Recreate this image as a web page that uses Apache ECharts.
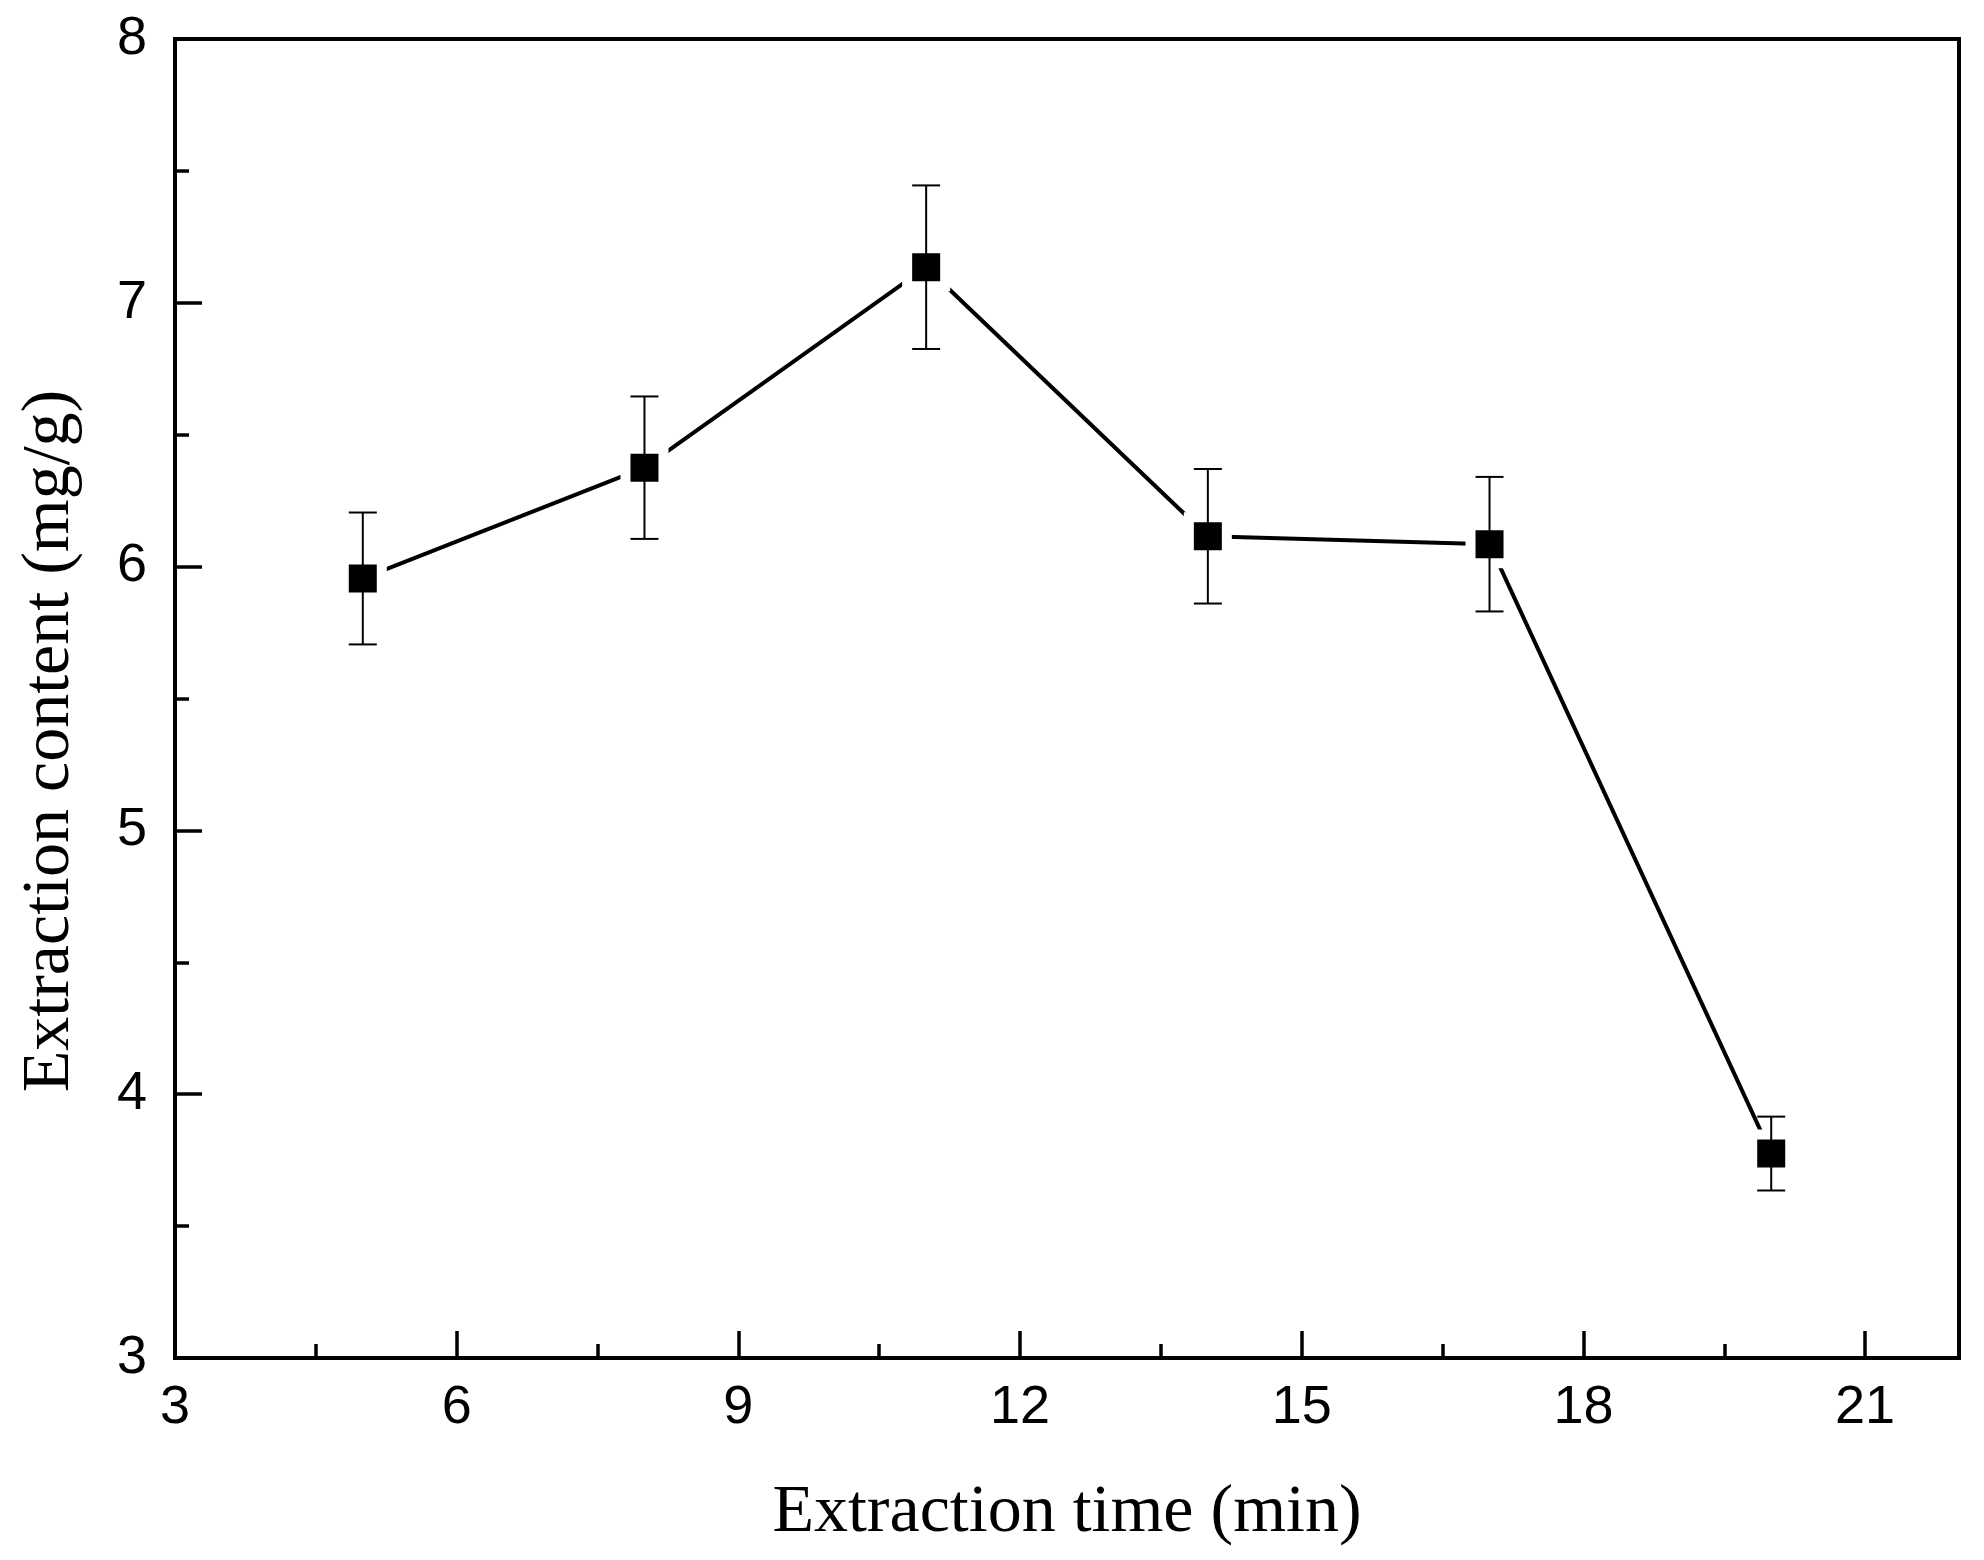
<!DOCTYPE html>
<html>
<head>
    <meta charset="utf-8"/>
    <title>Extraction time</title>
    <script src="https://cdn.jsdelivr.net/npm/echarts@6/dist/echarts.min.js"></script>
    <style>
        html, body { margin: 0; padding: 0; background: #fff; }
        #chart { width: 1984px; height: 1560px; }
    </style>
</head>
<body>
<div id="chart"></div>
<script>
    // data
    var times = [5, 8, 11, 14, 17, 20];
    var content = [5.955, 6.375, 7.135, 6.115, 6.085, 3.775];
    var errors = [0.25, 0.27, 0.31, 0.255, 0.255, 0.14];
    var xTickLabels = [3, 6, 9, 12, 15, 18, 21];
    var yTickLabels = [3, 4, 5, 6, 7, 8];

    var labelFont = '"Liberation Sans", Arial, sans-serif';
    var titleFont = '"Liberation Serif", "Times New Roman", serif';

    var chart = echarts.init(document.getElementById('chart'));

    var lineData = [];
    var errData = [];
    for (var i = 0; i < times.length; i++) {
        lineData.push([times[i], content[i]]);
        errData.push([times[i], content[i], errors[i]]);
    }

    // error bar with caps
    function renderErr(params, api) {
        var x = api.value(0), y = api.value(1), e = api.value(2);
        var top = api.coord([x, y + e]);
        var bot = api.coord([x, y - e]);
        var w = 14;
        var st = {stroke: '#000', lineWidth: 2};
        return {
            type: 'group',
            children: [
                {type: 'line', shape: {x1: top[0], y1: top[1], x2: bot[0], y2: bot[1]}, style: st},
                {type: 'line', shape: {x1: top[0] - w, y1: top[1], x2: top[0] + w, y2: top[1]}, style: st},
                {type: 'line', shape: {x1: bot[0] - w, y1: bot[1], x2: bot[0] + w, y2: bot[1]}, style: st}
            ]
        };
    }

    var option = {
        backgroundColor: '#fff',
        animation: false,
        grid: {
            left: 175, right: 25, top: 39, bottom: 202,
            containLabel: false,
            outerBoundsMode: 'none',
            show: true,
            borderColor: '#000',
            borderWidth: 4,
            backgroundColor: 'transparent'
        },
        xAxis: [{
            type: 'value',
            position: 'bottom',
            min: 3, max: 22, interval: 3,
            axisLine: {show: true, lineStyle: {color: '#000', width: 4}},
            axisTick: {show: true, inside: true, length: 27, lineStyle: {color: '#000', width: 3.5}},
            splitLine: {show: false},
            axisLabel: {
                color: '#000', fontSize: 54, fontFamily: labelFont, margin: 23,
                formatter: function (v) {
                    return xTickLabels.indexOf(v) >= 0 ? String(v) : '';
                }
            },
            name: 'Extraction time (min)',
            nameLocation: 'middle',
            nameGap: 121,
            nameTextStyle: {color: '#000', fontSize: 68, fontFamily: titleFont}
        }, {
            type: 'value',
            position: 'bottom',
            min: 3, max: 22, interval: 1.5,
            axisLine: {show: false},
            axisTick: {show: true, inside: true, length: 14, lineStyle: {color: '#000', width: 3.5}},
            axisLabel: {show: false},
            splitLine: {show: false}
        }],
        yAxis: {
            type: 'value',
            min: 3, max: 8, interval: 1,
            axisLine: {show: true, lineStyle: {color: '#000', width: 4}},
            axisTick: {show: true, inside: true, length: 27, lineStyle: {color: '#000', width: 3.5}},
            minorTick: {show: true, splitNumber: 2, length: 14, lineStyle: {color: '#000', width: 3.5}},
            splitLine: {show: false},
            minorSplitLine: {show: false},
            axisLabel: {
                color: '#000', fontSize: 54, fontFamily: labelFont, margin: 28,
                formatter: function (v) {
                    return yTickLabels.indexOf(v) >= 0 ? String(v) : '';
                }
            }
        },
        graphic: [{
            type: 'text',
            x: 50, y: 741,
            rotation: Math.PI / 2,
            style: {
                text: 'Extraction content (mg/g)',
                font: '68px ' + titleFont,
                fill: '#000',
                align: 'center',
                verticalAlign: 'middle'
            }
        }],
        series: [{
            type: 'line',
            xAxisIndex: 0,
            data: lineData,
            symbol: 'rect',
            symbolSize: 38,
            lineStyle: {color: '#000', width: 4, cap: 'round'},
            itemStyle: {color: '#000', borderColor: '#fff', borderWidth: 10},
            z: 2
        }, {
            type: 'custom',
            xAxisIndex: 0,
            data: errData,
            renderItem: renderErr,
            z: 5
        }]
    };
    chart.setOption(option);
</script>
</body>
</html>
